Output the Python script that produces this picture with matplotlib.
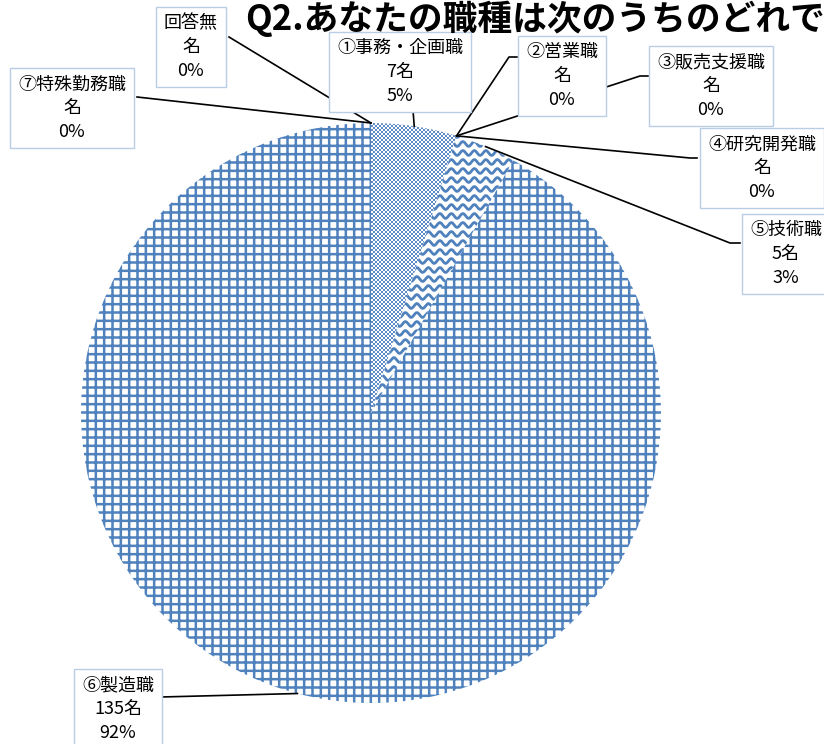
import numpy as np
import matplotlib
matplotlib.use("Agg")
import matplotlib.pyplot as plt
from matplotlib.colors import ListedColormap

plt.rcParams['font.family'] = ['Noto Sans CJK JP', 'DejaVu Sans']
plt.rcParams['hatch.linewidth'] = 1.8

# ---- data ----
title = "Q2.あなたの職種は次のうちのどれで"
categories = ["①事務・企画職", "②営業職", "③販売支援職", "④研究開発職",
              "⑤技術職", "⑥製造職", "⑦特殊勤務職", "回答無"]
counts = [7, 0, 0, 0, 5, 135, 0, 0]

# ---- layout (pixel coordinates, y from top) ----
W, H = 824, 744
CX, CY, R = 371, 413, 290
BLUE = '#4F81BD'
BOXC = '#B9CDE5'

# text centre of each label box and the point where the leader meets the box
label_pos = [(400, 72), (562, 76), (711, 86), (762, 168),
             (786, 254), (118, 709), (72, 108), (191, 47)]
attach = [(413, 110), (517, 57), (648, 76), (697, 158),
          (740, 243), (161, 697), (137, 97), (229, 37)]
elbow = [None, (509, 57), (640, 76), (690, 158),
         (730, 243), None, None, None]

fig = plt.figure(figsize=(W / 100, H / 100), dpi=100)
ax = fig.add_axes([0, 0, 1, 1])


def py(y):
    return H - y


total = sum(counts)
hatches = ['', '', '', '', '', '++', '', '']
wedges, _ = ax.pie(counts, startangle=90, counterclock=False,
                   center=(CX, py(CY)), radius=R,
                   colors=['white'] * len(counts), hatch=hatches,
                   wedgeprops=dict(edgecolor=BLUE, linewidth=0))
ax.set_xlim(0, W)
ax.set_ylim(0, H)
ax.set_aspect('equal')
ax.axis('off')

# fine checker fill for slice ①
n = 600
yy, xx = np.mgrid[0:n, 0:n]
checker = ((xx // 2 + yy // 2) % 2).astype(float)
cm = ListedColormap(['white', '#5f8cc6'])
im = ax.imshow(checker, cmap=cm, extent=(CX - 300, CX + 300, py(CY) - 300, py(CY) + 300),
               interpolation='nearest', zorder=2, origin='lower')
im.set_clip_path(wedges[0])

# wavy fill for slice ⑤
w5 = wedges[4]
xs = np.linspace(CX - 10, CX + 300, 900)
for y0 in np.arange(py(CY) - 10, py(CY) + 300, 9.0):
    ln, = ax.plot(xs, y0 + 2.4 * np.sin(2 * np.pi * xs / 11.5), color=BLUE,
                  lw=2.0, zorder=2, solid_capstyle='butt')
    ln.set_clip_path(w5)

# labels and leaders
for i, (cat, c) in enumerate(zip(categories, counts)):
    pct = round(c / total * 100)
    cstr = f"{c}名" if c else "名"
    txt = f"{cat}\n{cstr}\n{pct}%"
    tx, ty = label_pos[i]
    ax.text(tx, py(ty), txt, ha='center', va='center', fontsize=13,
            linespacing=1.4, zorder=5,
            bbox=dict(boxstyle='square,pad=0.42', fc='white', ec=BOXC, lw=1.0))
    wd = wedges[i]
    ang = np.deg2rad((wd.theta1 + wd.theta2) / 2)
    px_, py_ = wd.center[0] + R * np.cos(ang), wd.center[1] + R * np.sin(ang)
    pts = [(px_, py_)]
    if elbow[i] is not None:
        pts.append((elbow[i][0], py(elbow[i][1])))
    pts.append((attach[i][0], py(attach[i][1])))
    pts = np.array(pts)
    ax.plot(pts[:, 0], pts[:, 1], color='black', lw=1.2, zorder=4)

ax.text(245, py(19), title, ha='left', va='center', fontsize=25,
        fontweight='bold', zorder=6)

fig.savefig('out.png', dpi=100)
